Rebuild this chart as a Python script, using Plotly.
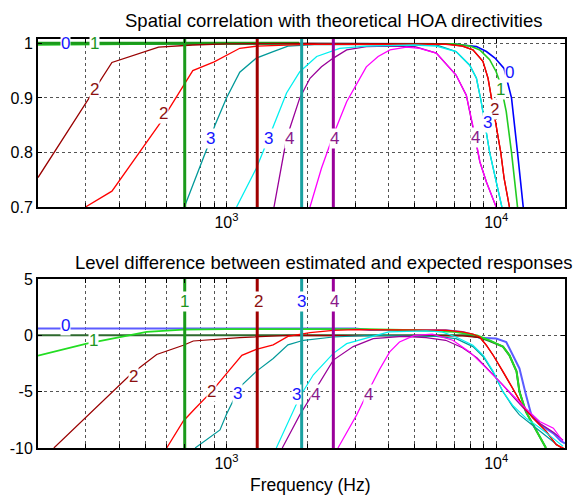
import numpy as np
import plotly.graph_objects as go

# ---------------- data ----------------
# Top panel: spatial correlation (curves per order; "a" = dark set, "b" = light set)
top_blue_f = [200, 1860, 5000, 7000, 7500, 8450, 9200, 9900, 10700, 11400, 12000, 12600]
top_blue_v = [1.0, 1.0, 1.0, 0.999, 0.997, 0.994, 0.985, 0.973, 0.954, 0.900, 0.800, 0.700]

top_green_b_f = [200, 300, 500, 1000, 7000, 8000, 8700, 9460, 10000, 10400, 10900, 11400, 12000]
top_green_b_v = [0.997, 0.998, 0.999, 1.0, 0.999, 0.995, 0.988, 0.970, 0.948, 0.924, 0.875, 0.800, 0.700]

top_green_a_f = [200, 1860]
top_green_a_v = [1.0, 1.0]

top_dred_f = [200, 376, 560, 750, 1000, 2000, 6500, 7500, 8200, 8930, 9330, 9600, 10000, 10400, 10700, 11200]
top_dred_v = [0.754, 0.965, 0.993, 0.997, 0.999, 1.0, 0.999, 0.995, 0.988, 0.967, 0.936, 0.900, 0.850, 0.800, 0.753, 0.700]

top_red_f = [300, 376, 570, 750, 900, 1120, 1300, 2000, 6500, 7500, 8200, 8930, 9330, 9600, 10000, 10400, 10700, 11200]
top_red_v = [0.700, 0.729, 0.855, 0.950, 0.966, 0.991, 0.995, 0.998, 0.998, 0.995, 0.988, 0.967, 0.936, 0.900, 0.850, 0.800, 0.753, 0.700]

top_teal_f = [698, 857, 906, 1000, 1120, 1290, 1490, 1690, 2200, 6000, 7100, 7980, 8450, 8800, 9460, 10000, 10500]
top_teal_v = [0.700, 0.814, 0.850, 0.900, 0.947, 0.973, 0.985, 0.995, 0.998, 0.997, 0.985, 0.960, 0.936, 0.893, 0.800, 0.746, 0.700]

top_cyan_f = [1090, 1290, 1430, 1670, 1870, 2160, 2630, 3300, 5000, 6000, 7100, 7980, 8450, 8800, 9460, 10000, 10500]
top_cyan_v = [0.700, 0.771, 0.825, 0.909, 0.948, 0.976, 0.991, 0.995, 0.997, 0.995, 0.985, 0.960, 0.936, 0.893, 0.800, 0.746, 0.700]

top_purple_f = [1500, 1670, 1870, 2040, 2250, 2490, 2790, 3300, 4000, 5000, 6000, 7100, 7750, 8370, 8700, 9200, 10000]
top_purple_v = [0.700, 0.826, 0.900, 0.936, 0.957, 0.973, 0.988, 0.994, 0.995, 0.994, 0.982, 0.942, 0.905, 0.828, 0.783, 0.746, 0.700]

top_mag_f = [2040, 2250, 2490, 2790, 3300, 3650, 4040, 4650, 5200, 6000, 7100, 7750, 8370, 8700, 9200, 10000]
top_mag_v = [0.700, 0.771, 0.832, 0.893, 0.957, 0.976, 0.988, 0.993, 0.991, 0.982, 0.942, 0.905, 0.828, 0.783, 0.746, 0.700]

# Bottom panel: level difference (dB)
bot_blue_f = [200, 3000, 3400, 6500, 7500, 8200, 8700, 10000, 10900, 11500, 12200, 12900, 13500, 14500, 16300, 17400, 18000]
bot_blue_v = [0.6, 0.6, 0.47, 0.45, 0.3, 0.05, -0.22, -0.28, -0.6, -1.77, -2.94, -5.3, -7.06, -7.9, -8.7, -9.4, -9.6]

bot_green_b_f = [200, 303, 506, 692, 1000, 3300, 5000, 7000, 8500, 9460, 10600, 11200, 11900, 12200, 12900, 14100, 15300]
bot_green_b_v = [-1.8, -0.74, 0.3, 0.5, 0.55, 0.55, 0.45, 0.3, 0.0, -0.44, -1.0, -1.77, -3.2, -5.0, -6.8, -8.5, -10.0]

bot_green_a_f = [200, 7900, 8700, 9460, 10600, 11200, 11900, 12200, 12900, 14100, 15300]
bot_green_a_v = [0.0, 0.0, -0.2, -0.5, -1.0, -1.77, -3.2, -5.0, -6.8, -8.5, -10.0]

bot_dred_f = [229, 440, 551, 692, 753, 868, 1120, 1700, 6000, 7500, 8700, 9200, 9750, 10600, 11500, 12500, 13700, 15300, 16700, 17500]
bot_dred_v = [-10.0, -3.5, -1.7, -0.88, -0.5, -0.4, -0.2, 0.0, 0.0, -0.05, -0.2, -0.9, -1.77, -3.2, -4.7, -6.2, -7.35, -8.5, -9.7, -10.0]

bot_red_f = [600, 692, 765, 880, 1000, 1140, 1290, 1490, 1690, 2040, 2490, 3000, 6500, 7500, 8200, 8700, 9200, 9750, 10600, 11500, 12500, 13700, 15300, 16700, 17800]
bot_red_v = [-10.0, -7.6, -6.5, -5.0, -3.4, -1.77, -1.24, -0.85, -0.1, 0.24, 0.44, 0.5, 0.45, 0.3, 0.1, -0.15, -0.88, -1.77, -3.2, -4.7, -6.2, -7.35, -8.5, -9.7, -10.0]

bot_teal_f = [765, 946, 1000, 1120, 1290, 1490, 1690, 1930, 2490, 3400, 6000, 7100, 8200, 8960, 9750, 10600, 11500, 12200, 13500, 14500, 16000, 17000]
bot_teal_v = [-10.0, -8.4, -7.0, -4.6, -3.2, -2.06, -0.85, -0.44, -0.15, 0.0, -0.1, -0.3, -1.0, -1.9, -3.3, -5.0, -6.3, -7.06, -7.9, -8.5, -9.3, -9.8]

bot_cyan_f = [1530, 1720, 1870, 2100, 2490, 2790, 3400, 4000, 5500, 6300, 7100, 8200, 8960, 9750, 10600, 11500, 12900, 14500, 16200, 17700]
bot_cyan_v = [-10.0, -7.35, -5.45, -3.5, -1.6, -0.74, -0.15, 0.3, 0.4, 0.3, -0.15, -0.88, -1.77, -3.2, -5.0, -6.2, -7.35, -8.2, -9.1, -9.85]

bot_purple_f = [1610, 1870, 2040, 2490, 2950, 3500, 4500, 5500, 6500, 7500, 8500, 9500, 10500, 11500, 12900, 14500, 16300, 17700]
bot_purple_v = [-10.0, -7.06, -5.6, -2.2, -1.0, -0.3, -0.1, -0.2, -0.44, -1.1, -2.0, -3.2, -4.3, -5.4, -6.7, -7.8, -8.6, -9.3]

bot_mag_f = [2590, 3040, 3300, 3700, 4030, 4380, 4980, 5800, 6900, 7980, 8960, 10000, 11500, 12900, 14500, 16300, 17700]
bot_mag_v = [-10.0, -7.06, -5.3, -3.0, -1.47, -0.59, 0.0, 0.1, -0.44, -1.47, -2.65, -3.82, -5.3, -6.5, -7.65, -8.24, -9.4]

# Order cut-off frequencies (thick vertical lines)
cut_freqs = [700, 1300, 1900, 2490]
cut_colors = ["#1a9a1a", "#a00000", "#1aa0a0", "#990099"]

# Curve labels
top_lbl_text = ["0", "1", "2", "2", "3", "3", "4", "4", "0", "1", "2", "3", "4"]
top_lbl_f = [252, 324, 324, 584, 869, 1430, 1718, 2508, 11200, 10370, 9870, 9250, 8370]
top_lbl_v = [1.0, 1.0, 0.915, 0.872, 0.826, 0.826, 0.826, 0.826, 0.947, 0.915, 0.878, 0.854, 0.828]

bot_lbl_text = ["1", "2", "3", "4", "0", "1", "2", "2", "3", "3", "4", "4"]
bot_lbl_f = [697, 1312, 1899, 2508, 252, 321, 452, 881, 1100, 1819, 2139, 3350]
bot_lbl_v = [3.0, 3.0, 3.0, 3.0, 0.88, -0.44, -3.68, -5.0, -5.15, -5.24, -5.24, -5.24]

label_colors = {"0": "#1414ff", "1": "#1e961e", "2": "#8b1010", "3": "#1414ff", "4": "#8a1a8a"}

grid_f = [200, 300, 400, 500, 600, 700, 800, 900, 1000, 2000, 3000, 4000, 5000,
          6000, 7000, 8000, 9000, 10000]
grid_text = ["10<sup>3</sup>" if g == 1000 else ("10<sup>4</sup>" if g == 10000 else "") for g in grid_f]

FONT = "Liberation Sans, Arial, sans-serif"

fig = go.Figure()

def add(f, v, color, width, ax):
    fig.add_trace(go.Scatter(x=f, y=v, mode="lines", line=dict(color=color, width=width),
                             xaxis="x" if ax == 1 else "x2", yaxis="y" if ax == 1 else "y2",
                             hoverinfo="skip", showlegend=False))

# ---- top panel traces
add(top_blue_f, top_blue_v, "#0000ff", 1.6, 1)
add(top_green_b_f, top_green_b_v, "#22cc22", 1.6, 1)
add(top_green_a_f, top_green_a_v, "#1a9a1a", 3, 1)
add(top_dred_f, top_dred_v, "#990000", 1.3, 1)
add(top_teal_f, top_teal_v, "#009999", 1.3, 1)
add(top_purple_f, top_purple_v, "#990099", 1.3, 1)
add(top_red_f, top_red_v, "#ff0000", 1.3, 1)
add(top_cyan_f, top_cyan_v, "#00f0f0", 1.3, 1)
add(top_mag_f, top_mag_v, "#ff00ff", 1.3, 1)
for fc, col in zip(cut_freqs, cut_colors):
    add([fc, fc], [0.7, 1.008], col, 3, 1)

# ---- bottom panel traces
add(bot_blue_f, bot_blue_v, "#5c5cff", 2, 2)
add(bot_green_a_f, bot_green_a_v, "#2e6a2e", 2, 2)
add(bot_green_b_f, bot_green_b_v, "#22dd22", 1.8, 2)
add(bot_dred_f, bot_dred_v, "#990000", 1.2, 2)
add(bot_teal_f, bot_teal_v, "#009999", 1.2, 2)
add(bot_purple_f, bot_purple_v, "#990099", 1.2, 2)
add(bot_red_f, bot_red_v, "#ff0000", 1.3, 2)
add(bot_cyan_f, bot_cyan_v, "#00f0f0", 1.2, 2)
add(bot_mag_f, bot_mag_v, "#ff00ff", 1.2, 2)
for fc, col in zip(cut_freqs, cut_colors):
    add([fc, fc], [-10, 5], col, 3, 2)

annotations = []
for t, f, v in zip(top_lbl_text, top_lbl_f, top_lbl_v):
    annotations.append(dict(x=np.log10(f), y=v, xref="x", yref="y", text=t, showarrow=False,
                            font=dict(family=FONT, size=17, color=label_colors[t]),
                            bgcolor="white", borderpad=0))
for t, f, v in zip(bot_lbl_text, bot_lbl_f, bot_lbl_v):
    annotations.append(dict(x=np.log10(f), y=v, xref="x2", yref="y2", text=t, showarrow=False,
                            font=dict(family=FONT, size=17, color=label_colors[t]),
                            bgcolor="white", borderpad=0))

annotations.append(dict(x=333 / 576, y=1 - 20 / 495, xref="paper", yref="paper",
                        text="Spatial correlation with theoretical HOA directivities",
                        showarrow=False, xanchor="center", yanchor="middle",
                        font=dict(family=FONT, size=18.5, color="black")))
annotations.append(dict(x=323 / 576, y=1 - 262 / 495, xref="paper", yref="paper",
                        text="Level difference between estimated and expected responses",
                        showarrow=False, xanchor="center", yanchor="middle",
                        font=dict(family=FONT, size=18.5, color="black")))
annotations.append(dict(x=310 / 576, y=1 - 485 / 495, xref="paper", yref="paper",
                        text="Frequency (Hz)", showarrow=False, xanchor="center", yanchor="middle",
                        font=dict(family=FONT, size=17.5, color="black")))

xcommon = dict(type="log", range=[np.log10(200), np.log10(18000)],
               domain=[38 / 576, 565 / 576], tickvals=grid_f, ticktext=grid_text,
               showgrid=True, gridcolor="#555555", griddash="dot", gridwidth=1,
               showline=True, linecolor="black", linewidth=2, mirror="ticks",
               ticks="inside", ticklen=4, tickcolor="black", zeroline=False, automargin=False,
               tickfont=dict(family=FONT, size=16, color="black"))
ycommon = dict(showgrid=True, gridcolor="#555555", griddash="dot", gridwidth=1,
               showline=True, linecolor="black", linewidth=2, mirror="ticks",
               ticks="inside", ticklen=4, tickcolor="black", zeroline=False, automargin=False,
               tickfont=dict(family=FONT, size=16, color="black"))

fig.update_layout(
    width=576, height=495, margin=dict(l=0, r=0, t=0, b=0, autoexpand=False),
    paper_bgcolor="white", plot_bgcolor="white",
    xaxis=dict(**xcommon, anchor="y"),
    xaxis2=dict(**xcommon, anchor="y2"),
    yaxis=dict(**ycommon, anchor="x", domain=[1 - 207 / 495, 1 - 39 / 495], range=[0.7, 1.008],
               tickvals=[0.7, 0.8, 0.9, 1.0], ticktext=["0.7", "0.8", "0.9", "1"]),
    yaxis2=dict(**ycommon, anchor="x2", domain=[1 - 448 / 495, 1 - 279 / 495], range=[-10, 5],
                tickvals=[-10, -5, 0, 5], ticktext=["-10", "-5", "0", "5"]),
    annotations=annotations,
    showlegend=False,
)

fig.write_html("out.html", config={"displayModeBar": False},
               post_script="document.body.style.margin='0px';")
